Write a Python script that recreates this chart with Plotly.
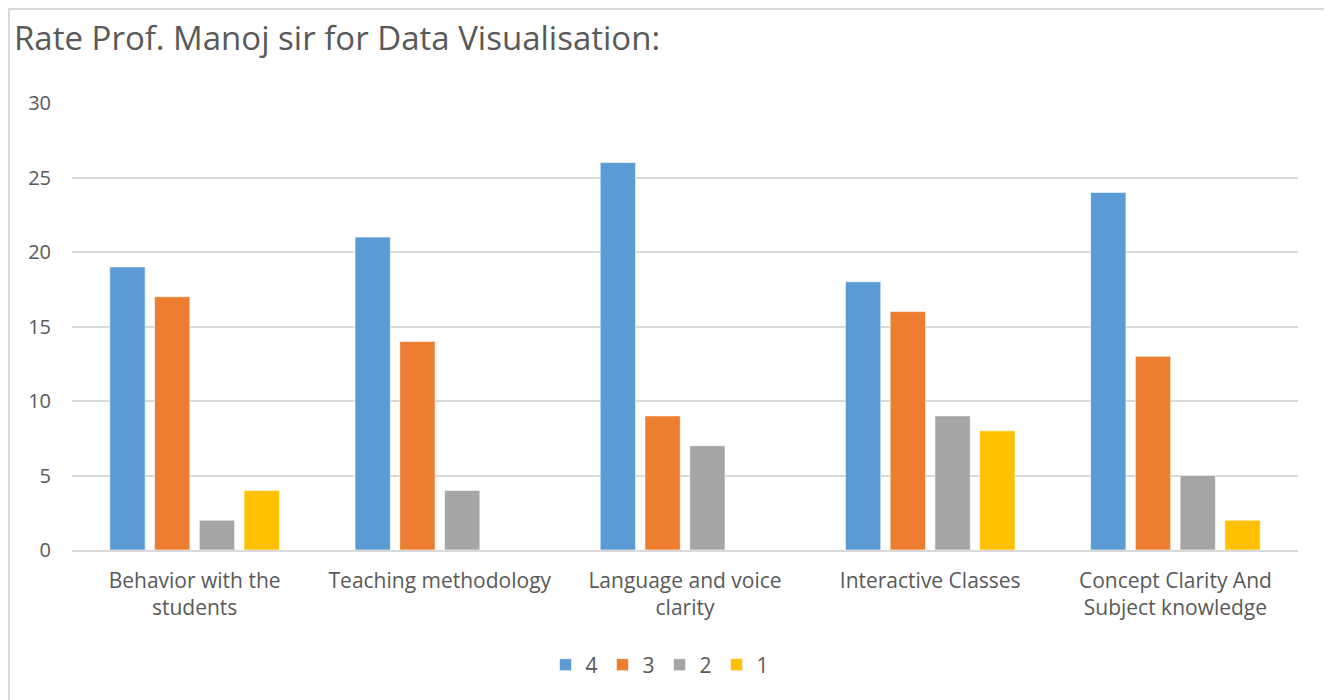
import plotly.graph_objects as go

categories = [
    "Behavior with the<br>students",
    "Teaching methodology",
    "Language and voice<br>clarity",
    "Interactive Classes",
    "Concept Clarity And<br>Subject knowledge",
]
series_names = ["4", "3", "2", "1"]
rating_4 = [19, 21, 26, 18, 24]
rating_3 = [17, 14, 9, 16, 13]
rating_2 = [2, 4, 7, 9, 5]
rating_1 = [4, 0, 0, 8, 2]
y_ticks = [0, 5, 10, 15, 20, 25, 30]

colors = ["#5B9BD5", "#ED7D31", "#A5A5A5", "#FFC000"]
font_family = "Open Sans, Liberation Sans, sans-serif"
text_color = "#595959"

fig = go.Figure()
for name, vals, col in zip(series_names, [rating_4, rating_3, rating_2, rating_1], colors):
    fig.add_trace(go.Bar(
        x=categories, y=vals, name=name,
        marker=dict(color=col, line=dict(color="rgba(255,255,255,0.6)", width=1)),
    ))

# the page puts the figure 8px in from the top-left corner
off = 8
W, H = 1332 - off, 700 - off
ml, mt = 72 - off, 103 - off
pw = 1298 - 72
ph = 550 - 103
mr = W - ml - pw
mb = H - mt - ph

def px_x(page_x):
    return (page_x - 72) / pw

def px_y(page_y):
    return (550 - page_y) / ph

fig.update_layout(
    width=W, height=H,
    margin=dict(l=ml, r=mr, t=mt, b=mb),
    paper_bgcolor="white", plot_bgcolor="white",
    barmode="group", bargap=0.27, bargroupgap=0.21,
    font=dict(family=font_family, color=text_color, size=20),
    title=dict(
        text="Rate Prof. Manoj sir for Data Visualisation:",
        x=(14 - off) / W, xanchor="left", y=1 - (38 - off) / H, yanchor="middle",
        font=dict(size=33, color=text_color, family=font_family),
    ),
    legend=dict(
        orientation="h", x=px_x(660), xanchor="center",
        y=px_y(665), yanchor="middle",
        font=dict(size=21, color=text_color), itemwidth=30,
        traceorder="normal",
    ),
    showlegend=True,
)
fig.update_yaxes(
    range=[0, 30], tickvals=y_ticks, showgrid=True, gridcolor="#D9D9D9", gridwidth=1.5,
    zeroline=False, showline=False, ticks="", ticklabelstandoff=20,
    tickfont=dict(size=20, color=text_color),
)
fig.update_xaxes(
    showline=True, linecolor="#D9D9D9", linewidth=1.5, ticks="",
    tickfont=dict(size=21, color=text_color), ticklabelstandoff=11,
)
# outer chart frame (left/top edges as close to the page corner as the figure allows)
fig.add_shape(
    type="rect", xref="paper", yref="paper",
    x0=px_x(9), x1=px_x(1328), y0=px_y(720), y1=px_y(9),
    line=dict(color="#D9D9D9", width=2), fillcolor="rgba(0,0,0,0)", layer="below",
)

fig.write_html("out.html")
